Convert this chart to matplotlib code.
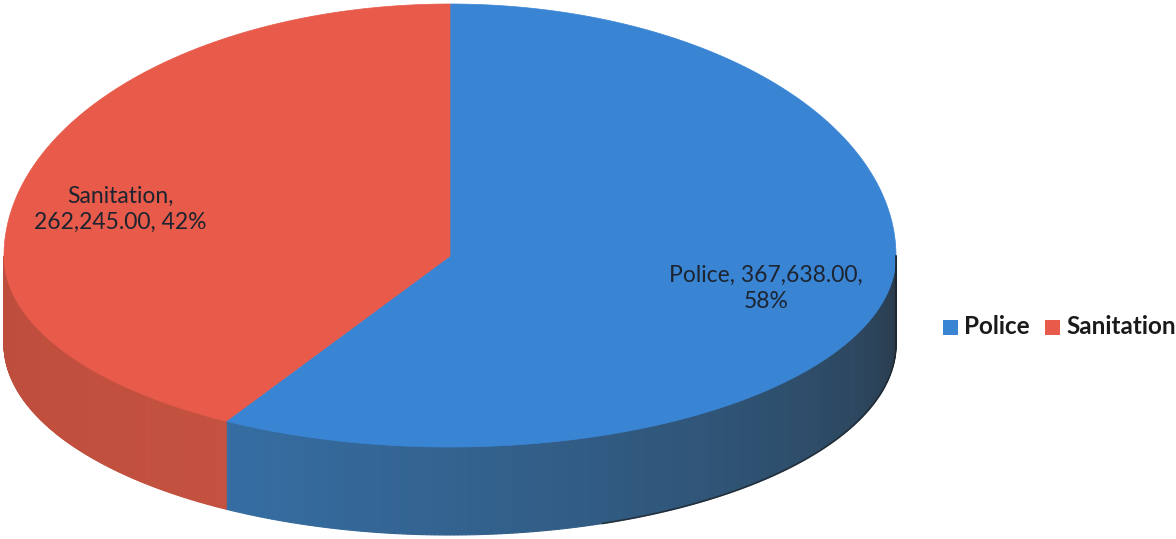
import numpy as np
import matplotlib.pyplot as plt
from matplotlib.patches import Polygon, Rectangle

# budget split
categories = ['Police', 'Sanitation']
values = [367638.00, 262245.00]
top_colors = ['#3a84d4', '#e85a49']
side_light = [(0.21, 0.43, 0.64), (0.77, 0.32, 0.25)]
side_dark = [(0.16, 0.22, 0.27), (0.74, 0.30, 0.24)]

plt.rcParams['font.family'] = ['Lato', 'DejaVu Sans']

fig = plt.figure(figsize=(11.76, 5.39), dpi=100)
ax = fig.add_axes([0, 0, 1, 1])
ax.set_xlim(0, 1176)
ax.set_ylim(539, 0)
ax.axis('off')

# top face geometry in pixels (y grows downward); the far half is taller
# than the near half to fake the perspective tilt
cx, cy = 450, 256
a = 446
b_far, b_near = 252, 191
depth = 88

def pt(t, dy=0):
    t = np.radians(np.asarray(t, dtype=float))
    s = np.sin(t)
    b = np.where(s < 0, b_far, b_near)
    return cx + a * np.cos(t), cy + b * s + dy

total = sum(values)
fracs = [v / total for v in values]
spans = []
t0 = -90.0
for f in fracs:
    spans.append((t0, t0 + 360 * f))
    t0 += 360 * f

# side walls, only the near half (t between 0 and 180) shows
for i, (s, e) in enumerate(spans):
    lo, hi = max(s, 0), min(e, 180)
    if hi <= lo:
        continue
    ts = np.linspace(lo, hi, 240)
    for j in range(len(ts) - 1):
        ta, tb = ts[j], ts[j + 1]
        k = (ta - lo) / (hi - lo)
        w = k ** 0.8 if i == 0 else 1 - k
        c = tuple(side_dark[i][m] * (1 - w) + side_light[i][m] * w for m in range(3))
        xa, ya = pt(ta)
        xb, yb = pt(tb)
        ax.add_patch(Polygon([(xa, ya), (xb, yb), (xb, yb + depth), (xa, ya + depth)],
                             closed=True, facecolor=c, edgecolor=c, lw=0.8))

# dark rim along the right-hand edge
ts = np.linspace(0, 70, 200)
xs, ys = pt(ts, depth)
ax.plot(xs, ys, color='#1e252c', lw=1.2, alpha=0.8)
x0, y0 = pt(0)
ax.plot([x0, x0], [y0, y0 + depth], color='#1e252c', lw=1.2)

# top face
for i, (s, e) in enumerate(spans):
    ts = np.linspace(s, e, 400)
    xs, ys = pt(ts)
    verts = [(cx, cy)] + list(zip(xs, ys))
    ax.add_patch(Polygon(verts, closed=True, facecolor=top_colors[i],
                         edgecolor=top_colors[i], lw=0.5))

# data labels
label_pos = {'Police': (766, 288), 'Sanitation': (120, 209)}
for i, lbl in enumerate(categories):
    pct = round(fracs[i] * 100)
    if lbl == 'Police':
        txt = f'{lbl}, {values[i]:,.2f},\n{pct}%'
    else:
        txt = f'{lbl},\n{values[i]:,.2f}, {pct}%'
    x, y = label_pos[lbl]
    ax.text(x, y, txt, ha='center', va='center', fontsize=16.5,
            color='#1c2430', linespacing=1.3)

# legend
lx = [943, 1045]
for i, lbl in enumerate(categories):
    ax.add_patch(Rectangle((lx[i], 320), 15, 15, facecolor=top_colors[i], edgecolor='none'))
    ax.text(lx[i] + 21, 327, lbl, ha='left', va='center', fontsize=17.5,
            fontweight='bold', color='#1a1a1a')

fig.savefig('out.png', dpi=100)
